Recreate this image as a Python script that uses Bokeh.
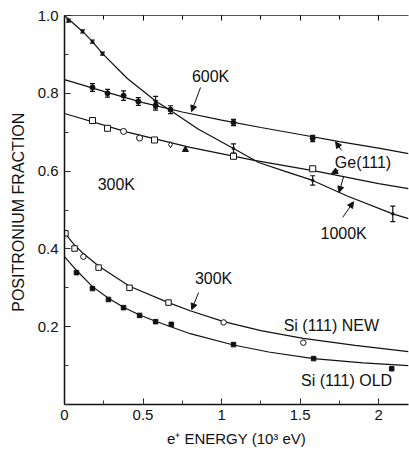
from bokeh.plotting import figure
from bokeh.models import (Range1d, LinearAxis, SingleIntervalTicker, Label, Arrow,
                          NormalHead, ColumnDataSource, PrintfTickFormatter)
from bokeh.embed import file_html
from bokeh.resources import INLINE

FONT = "Liberation Sans"

# ---------------- fitted curves ----------------
k1000_curve_e = [0, 0.115, 0.178, 0.242, 0.40, 0.58, 0.656, 0.85, 1.076, 1.236, 1.40, 1.58, 1.80, 2.09, 2.19]
k1000_curve_y = [1.0, 0.959, 0.933, 0.902, 0.838, 0.78, 0.761, 0.708, 0.658, 0.622, 0.600, 0.576, 0.536, 0.49, 0.478]

k600_curve_e = [0, 0.25, 0.5, 0.75, 1.0, 1.25, 1.5, 1.75, 2.0, 2.19]
k600_curve_y = [0.835, 0.805, 0.776, 0.752, 0.731, 0.712, 0.694, 0.676, 0.659, 0.645]

ge300_curve_e = [0, 0.4, 0.8, 1.2, 1.6, 2.0, 2.19]
ge300_curve_y = [0.748, 0.700, 0.661, 0.628, 0.600, 0.568, 0.555]

sinew_curve_e = [0, 0.064, 0.12, 0.217, 0.414, 0.662, 0.80, 1.013, 1.25, 1.52, 1.85, 2.19]
sinew_curve_y = [0.442, 0.41, 0.388, 0.356, 0.304, 0.262, 0.241, 0.213, 0.19, 0.17, 0.152, 0.136]

siold_curve_e = [0, 0.076, 0.178, 0.28, 0.376, 0.478, 0.58, 0.80, 1.076, 1.3, 1.586, 1.9, 2.19]
siold_curve_y = [0.38, 0.345, 0.303, 0.273, 0.25, 0.23, 0.214, 0.182, 0.153, 0.135, 0.118, 0.107, 0.10]

# ---------------- measured points ----------------
k1000_e = [0.025, 0.115, 0.178, 0.242, 0.58, 1.076, 1.58, 2.09]
k1000_y = [0.987, 0.959, 0.933, 0.902, 0.777, 0.658, 0.576, 0.49]
k1000_err = [0.004, 0.004, 0.004, 0.004, 0.015, 0.012, 0.012, 0.02]

k600_e = [0.178, 0.274, 0.376, 0.47, 0.58, 0.675, 1.076, 1.58]
k600_y = [0.815, 0.80, 0.794, 0.779, 0.769, 0.758, 0.725, 0.684]
k600_err = [0.01, 0.01, 0.012, 0.01, 0.012, 0.01, 0.008, 0.008]

ge300_e = [0.178, 0.274, 0.376, 0.478, 0.573, 0.675, 1.076, 1.58]
ge300_y = [0.730, 0.71, 0.702, 0.685, 0.68, 0.668, 0.638, 0.606]
ge300_marker = ["square", "square", "circle", "circle", "square", "diamond", "square", "square"]
ge300_filled_e = [0.77]
ge300_filled_y = [0.655]

sinew_e = [0.006, 0.064, 0.12, 0.217, 0.414, 0.662, 1.013, 1.52]
sinew_y = [0.44, 0.401, 0.38, 0.352, 0.30, 0.262, 0.211, 0.159]
sinew_marker = ["square", "square", "circle", "square", "square", "square", "circle", "circle"]

siold_e = [0.076, 0.178, 0.28, 0.376, 0.478, 0.58, 0.68, 1.076, 1.586, 2.083]
siold_y = [0.339, 0.298, 0.27, 0.249, 0.229, 0.213, 0.206, 0.154, 0.118, 0.092]

x_tick_labels = {0: "0", 0.5: "0.5", 1: "1", 1.5: "1.5", 2: "2"}
top_tick_labels = {0: "", 0.5: "", 1: "", 1.5: "", 2: ""}

p = figure(width=409, height=449, output_backend="svg", toolbar_location=None,
           x_range=Range1d(0, 2.19), y_range=Range1d(0, 1.0),
           min_border_left=64, min_border_right=1, min_border_top=15, min_border_bottom=45)
p.outline_line_color = None
p.grid.visible = False
p.background_fill_color = "white"

# axes
xa = p.xaxis[0]
xa.ticker = SingleIntervalTicker(interval=0.5, num_minor_ticks=2)
xa.major_label_overrides = x_tick_labels
ya = p.yaxis[0]
ya.ticker = SingleIntervalTicker(interval=0.2, num_minor_ticks=2)
ya.formatter = PrintfTickFormatter(format="%.1f")
ya.major_label_overrides = {0: ""}
for ax in (xa, ya):
    ax.major_tick_in = 6
    ax.major_tick_out = 0
    ax.minor_tick_in = 4
    ax.minor_tick_out = 0
    ax.axis_line_width = 1.5
    ax.axis_line_color = "#111111"
    ax.major_tick_line_color = "#111111"
    ax.minor_tick_line_color = "#333333"
    ax.major_label_text_font = FONT
    ax.major_label_text_font_size = "15px"
    ax.major_label_text_color = "#111111"
    ax.axis_label_text_font = FONT
    ax.axis_label_text_font_style = "normal"
    ax.axis_label_text_color = "#111111"
xa.major_label_standoff = 5
xa.axis_label = "e\u207a ENERGY (10\u00b3 eV)"
xa.axis_label_text_font_size = "15px"
xa.axis_label_standoff = 7
ya.major_label_standoff = 6
ya.axis_label = "POSITRONIUM  FRACTION"
ya.axis_label_text_font_size = "16px"
ya.axis_label_standoff = 8

top = LinearAxis(ticker=SingleIntervalTicker(interval=0.5, num_minor_ticks=2))
top.major_label_overrides = top_tick_labels
top.major_label_standoff = 0
top.major_tick_in = 5
top.major_tick_out = 0
top.minor_tick_in = 4
top.minor_tick_out = 0
top.axis_line_width = 1.2
top.axis_line_color = "#555555"
p.add_layout(top, "above")

LC = "#111111"
# curves
for e, y in [(k1000_curve_e, k1000_curve_y), (k600_curve_e, k600_curve_y),
             (ge300_curve_e, ge300_curve_y), (sinew_curve_e, sinew_curve_y),
             (siold_curve_e, siold_curve_y)]:
    p.line(e, y, line_color=LC, line_width=1.2)

# error bars
def errorbars(e, y, err):
    lo = [a - b for a, b in zip(y, err)]
    hi = [a + b for a, b in zip(y, err)]
    p.segment(x0=e, y0=lo, x1=e, y1=hi, line_color=LC, line_width=1.2)
    p.dash(x=e, y=lo, size=5, line_color=LC, line_width=1.2)
    p.dash(x=e, y=hi, size=5, line_color=LC, line_width=1.2)

errorbars(k1000_e, k1000_y, k1000_err)
p.scatter(k1000_e, k1000_y, size=2.5, color=LC)
errorbars(k600_e, k600_y, k600_err)
p.scatter(k600_e, k600_y, marker="circle", size=5, color=LC)

src_ge = ColumnDataSource(dict(x=ge300_e, y=ge300_y, m=ge300_marker))
p.scatter("x", "y", marker="m", source=src_ge, size=6, fill_color="white", line_color=LC, line_width=1)
p.scatter(ge300_filled_e, ge300_filled_y, marker="triangle", size=6, color=LC)

src_sn = ColumnDataSource(dict(x=sinew_e, y=sinew_y, m=sinew_marker))
p.scatter("x", "y", marker="m", source=src_sn, size=5.5, fill_color="white", line_color=LC, line_width=1)
p.scatter(siold_e, siold_y, marker="square", size=4.5, color=LC)

# labels
def lab(x, y, t, size="16px"):
    p.add_layout(Label(x=x, y=y, text=t, text_font=FONT, text_font_size=size,
                       text_align="center", text_baseline="middle", text_color=LC))

def arr(x0, y0, x1, y1):
    p.add_layout(Arrow(x_start=x0, y_start=y0, x_end=x1, y_end=y1, line_color=LC, line_width=1,
                       end=NormalHead(size=6, fill_color=LC, line_color=LC)))

lab(0.93, 0.843, "600K")
arr(0.866, 0.815, 0.809, 0.753)
lab(0.33, 0.566, "300K")
lab(1.90, 0.622, "Ge(111)")
arr(1.764, 0.653, 1.726, 0.675)
arr(1.745, 0.603, 1.70, 0.594)
arr(1.777, 0.586, 1.748, 0.545)
lab(1.777, 0.44, "1000K")
arr(1.771, 0.481, 1.84, 0.521)
lab(0.949, 0.324, "300K")
arr(0.854, 0.288, 0.81, 0.244)
lab(1.713, 0.203, "Si (111)  NEW", "16px")
lab(1.81, 0.062, "Si (111)  OLD", "16px")

open("out.html", "w").write(file_html(p, INLINE))
